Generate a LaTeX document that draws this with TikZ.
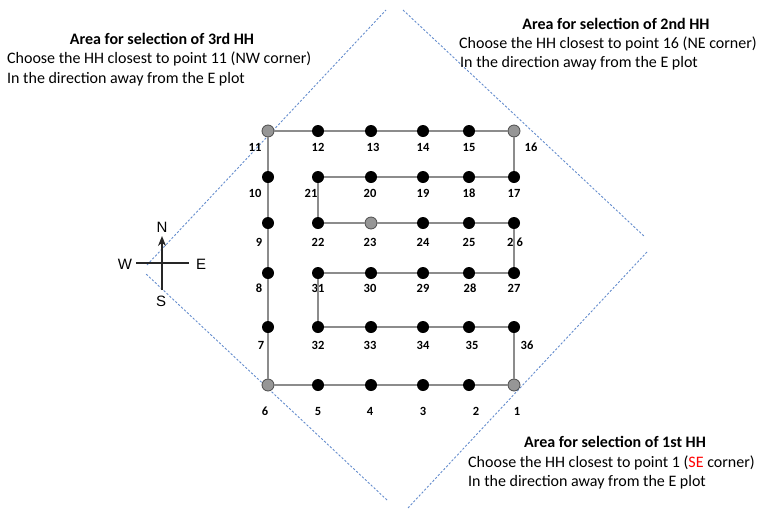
\documentclass[tikz,border=0pt]{standalone}
\usepackage{fontspec}
\setmainfont{Carlito}
\newfontfamily\arialf{Liberation Sans}
\usetikzlibrary{arrows.meta}
\definecolor{dashblue}{RGB}{100,140,205}
\definecolor{conngray}{RGB}{140,140,140}
\definecolor{hhgray}{RGB}{150,150,150}
\tikzset{
  hh/.style={circle,fill=black,inner sep=0pt,minimum size=12pt},
  hhg/.style={circle,fill=hhgray,draw=black!70,line width=0.8pt,inner sep=0pt,minimum size=12pt},
  num/.style={font=\fontsize{12.5}{14}\selectfont\bfseries,inner sep=0pt},
  conn/.style={draw=conngray,line width=1.4pt},
  area/.style={draw=dashblue,line width=0.9pt,dash pattern=on 2.2pt off 1.8pt},
  ttl/.style={font=\fontsize{16}{19}\selectfont\bfseries,inner sep=0pt,anchor=base},
  desc/.style={font=\fontsize{16}{19}\selectfont,inner sep=0pt,anchor=base west},
  cmp/.style={draw=black!85,line width=1.5pt},
  cmpl/.style={font=\arialf\fontsize{15}{16}\selectfont,inner sep=0pt}
}
\begin{document}
\begin{tikzpicture}[x=1pt,y=-1pt]
\useasboundingbox (0,0) rectangle (770,509);
% dashed selection areas
\coordinate (d1) at (147,265); \coordinate (d2) at (386,10);
\coordinate (d3) at (403,10);  \coordinate (d4) at (645,237);
\coordinate (d5) at (647,252); \coordinate (d6) at (407,509);
\coordinate (d7) at (387,500); \coordinate (d8) at (145,273);
\draw[area] (d1) -- (d2);
\draw[area] (d3) -- (d4);
\draw[area] (d5) -- (d6);
\draw[area] (d7) -- (d8);
% households
\foreach \n/\x/\y/\s/\lx/\ly in {
 1/514/385/hhg/517/411, 2/469/385/hh/476/411, 3/423/385/hh/423/411, 4/371/385/hh/370/411, 5/318/385/hh/318/411, 6/268/385/hhg/265/411,
 7/268/327/hh/261/345, 8/268/273/hh/259/288, 9/268/223/hh/259/242, 10/268/177/hh/255/193, 11/268/131/hhg/255/147,
 12/318/131/hh/318/147, 13/371/131/hh/373/147, 14/423/131/hh/423/147, 15/469/131/hh/469/147, 16/514/131/hhg/531/147,
 17/514/177/hh/514/193, 18/469/177/hh/469/193, 19/423/177/hh/423/193, 20/371/177/hh/370/193, 21/318/177/hh/311/193,
 22/318/223/hh/318/242, 23/371/223/hhg/370/242, 24/423/223/hh/423/242, 25/469/223/hh/469/242,
 27/514/273/hh/514/288, 28/469/273/hh/470/288, 29/423/273/hh/423/288, 30/371/273/hh/370/288, 31/318/273/hh/318/288,
 32/318/327/hh/318/345, 33/371/327/hh/370/345, 34/423/327/hh/423/345, 35/469/327/hh/472/345, 36/514/327/hh/527/345}
{
 \node[\s] (n\n) at (\x,\y) {};
 \node[num] (l\n) at (\lx,\ly) {\n};
}
\node[hh] (n26) at (514,223) {};
\node[num] (l26) at (515,242) {2\hspace{3pt}6};
% connecting route
\draw[conn] (n1) -- (n2) -- (n3) -- (n4) -- (n5) -- (n6) -- (n7) -- (n8) -- (n9) -- (n10) -- (n11)
  -- (n12) -- (n13) -- (n14) -- (n15) -- (n16) -- (n17) -- (n18) -- (n19) -- (n20) -- (n21)
  -- (n22) -- (n23) -- (n24) -- (n25) -- (n26) -- (n27) -- (n28) -- (n29) -- (n30) -- (n31)
  -- (n32) -- (n33) -- (n34) -- (n35) -- (n36) -- (n1);
% compass
\coordinate (cw) at (136,263); \coordinate (ce) at (189,263);
\coordinate (cs) at (162,290); \coordinate (cn) at (162,236);
\draw[cmp] (cw) -- (ce);
\draw[cmp,-{Stealth[length=10pt,width=8pt]}] (cs) -- (cn);
\node[cmpl] (N) at (162,227) {N};
\node[cmpl] (W) at (125,264) {W};
\node[cmpl] (E) at (201,264) {E};
\node[cmpl] (S) at (161,301) {S};
% texts
\node[ttl] (t3) at (162,44) {Area for selection of 3rd HH};
\node[desc] (x3a) at (7,63) {Choose the HH closest to point 11 (NW corner)};
\node[desc] (x3b) at (7,83) {In the direction away from the E plot};
\node[ttl] (t2) at (616,29) {Area for selection of 2nd HH};
\node[desc] (x2a) at (459,48) {Choose the HH closest to point 16 (NE corner)};
\node[desc] (x2b) at (460,67) {In the direction away from the E plot};
\node[ttl] (t1) at (615,447) {Area for selection of 1st HH};
\node[desc] (x1a) at (468,467) {Choose the HH closest to point 1 (\textcolor{red}{SE} corner)};
\node[desc] (x1b) at (468,486) {In the direction away from the E plot};
\end{tikzpicture}
\end{document}
